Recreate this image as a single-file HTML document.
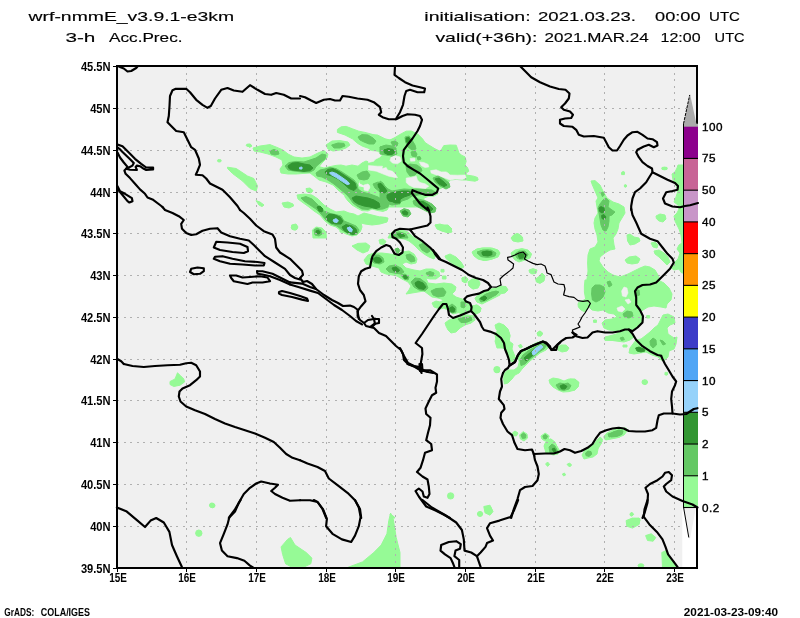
<!DOCTYPE html>
<html><head><meta charset="utf-8"><title>wrf precip</title>
<style>
html,body{margin:0;padding:0;background:#fff;}
body{width:800px;height:618px;overflow:hidden;position:relative;font-family:"Liberation Sans",sans-serif;}
</style></head><body>
<svg width="800" height="618" viewBox="0 0 800 618" style="position:absolute;left:0;top:0">
<rect x="0" y="0" width="800" height="618" fill="#fff"/>
<rect x="117.0" y="66.0" width="580.0" height="502.0" fill="#f0f0f0"/>
<clipPath id="pc"><rect x="118" y="67" width="565.5" height="500"/></clipPath>
<g clip-path="url(#pc)" stroke-linejoin="round">
<g fill="#96fa96" stroke="#96fa96" stroke-width="1.0">
<path d="M253.0,148.0 L260.0,146.0 L270.0,144.6 L277.0,147.4 L283.0,150.0 L288.0,154.0 L294.0,157.0 L302.0,158.0 L310.0,157.0 L318.0,153.0 L324.0,150.6 L328.0,154.0 L327.0,158.0 L322.0,163.0 L319.0,166.6 L324.0,168.0 L330.0,166.6 L336.0,165.4 L341.0,165.0 L346.0,166.2 L352.0,165.0 L358.0,166.2 L362.0,163.0 L366.0,161.0 L370.0,162.6 L373.0,167.4 L370.0,172.0 L364.0,175.0 L360.0,179.0 L358.0,184.0 L360.0,190.0 L352.0,191.0 L348.0,194.0 L344.0,195.0 L338.0,190.0 L333.0,185.0 L326.0,182.0 L319.0,180.0 L314.0,176.0 L310.0,173.0 L304.0,173.4 L296.0,174.0 L288.0,174.0 L281.0,173.0 L280.0,169.0 L283.0,165.0 L282.0,160.0 L276.0,157.0 L268.0,154.0 L260.0,152.0 L254.0,151.0 Z"/>
<path d="M344.0,191.0 L352.0,189.0 L360.0,187.0 L368.0,189.0 L376.0,191.0 L384.0,194.0 L392.0,195.0 L400.0,194.0 L400.0,205.0 L394.0,205.4 L389.0,206.6 L387.0,210.0 L383.0,211.4 L378.0,210.6 L372.0,209.0 L368.0,211.0 L362.0,210.6 L357.0,208.0 L352.0,205.0 L348.0,201.0 L345.0,197.0 Z"/>
<path d="M360.0,175.0 L368.0,172.0 L373.0,167.4 L378.0,169.4 L384.0,167.4 L388.0,169.4 L392.0,175.0 L396.0,181.0 L400.0,183.0 L400.0,195.0 L392.0,195.0 L384.0,194.0 L380.0,191.0 L376.0,187.0 L372.0,185.0 L368.0,184.0 L364.0,185.0 L360.0,183.0 Z"/>
<path d="M337.4,129.4 L341.2,126.8 L346.2,126.4 L352.4,128.8 L358.8,131.2 L365.0,132.4 L372.4,134.4 L378.8,137.4 L385.0,140.6 L390.0,140.0 L395.0,138.8 L400.0,136.2 L400.0,158.0 L396.0,157.4 L392.0,156.6 L388.0,156.0 L380.0,154.4 L376.2,151.2 L370.0,148.8 L362.4,146.2 L357.4,143.2 L352.4,138.8 L345.0,135.0 L337.4,132.4 Z"/>
<path d="M374.0,160.0 L378.0,156.0 L384.0,154.0 L389.0,155.0 L390.0,160.0 L389.0,164.0 L384.0,161.4 L378.0,162.0 Z"/>
<path d="M297.0,195.0 L304.0,194.0 L312.0,195.0 L318.0,199.0 L324.0,205.0 L330.0,209.0 L336.0,212.0 L344.0,211.0 L349.0,213.0 L354.0,214.0 L358.0,216.0 L364.0,213.0 L372.0,215.0 L380.0,217.0 L388.0,218.0 L387.0,222.0 L380.0,224.0 L372.0,225.0 L365.0,224.0 L361.0,223.0 L362.0,227.0 L360.0,232.0 L357.0,235.0 L352.0,236.0 L346.0,234.0 L341.0,231.0 L336.0,227.0 L330.0,225.0 L325.0,221.0 L320.0,215.0 L314.0,211.0 L309.0,207.0 L302.0,202.0 L298.0,199.0 Z"/>
<path d="M326.0,145.0 L332.0,141.0 L340.0,140.6 L348.0,142.0 L350.0,145.0 L346.0,148.0 L340.0,150.0 L333.0,151.0 L328.0,149.0 Z"/>
<path d="M247.0,145.0 L250.0,144.2 L252.0,146.0 L249.6,147.4 Z"/>
<path d="M256.0,200.6 L260.0,202.0 L264.0,205.0 L262.0,206.6 L259.0,205.0 Z"/>
<path d="M282.0,203.0 L288.0,202.0 L293.0,204.0 L293.6,206.0 L289.0,208.0 L284.0,207.0 Z"/>
<path d="M291.6,225.0 L296.0,224.0 L298.0,227.0 L296.0,230.0 L292.4,229.4 Z"/>
<path d="M306.0,188.6 L310.0,188.0 L313.0,190.6 L311.0,193.0 L307.0,192.0 Z"/>
<path d="M312.4,230.0 L316.0,227.0 L322.0,228.0 L326.0,232.0 L326.4,238.0 L313.0,238.0 Z"/>
<path d="M435.0,225.0 L440.0,224.0 L446.0,226.0 L451.0,229.0 L452.0,232.0 L448.0,233.0 L442.0,231.0 L437.0,229.0 Z"/>
<path d="M380.0,217.0 L386.0,217.4 L388.0,220.0 L384.0,222.0 L380.0,221.4 Z"/>
<path d="M388.0,238.0 L390.0,234.0 L396.0,231.0 L402.0,230.0 L408.0,232.0 L411.0,235.0 L412.0,238.0 Z"/>
<path d="M512.0,238.0 L514.0,235.0 L517.0,233.4 L520.0,235.0 L522.0,238.0 Z"/>
<path d="M370.0,134.4 L377.5,135.0 L385.0,138.8 L390.0,140.0 L395.0,137.5 L401.2,133.8 L406.2,131.2 L411.2,131.0 L417.5,133.8 L422.5,138.8 L425.0,142.5 L428.8,145.0 L435.0,148.8 L440.0,151.2 L441.9,148.8 L443.8,145.6 L450.0,145.0 L456.2,145.2 L457.5,148.8 L458.8,152.5 L461.2,155.0 L465.0,156.9 L466.2,161.2 L465.0,165.0 L467.5,167.5 L468.8,171.2 L466.2,173.1 L466.2,175.0 L470.0,175.6 L473.8,176.2 L477.5,177.5 L478.1,180.0 L475.0,181.2 L470.0,180.6 L466.2,180.0 L462.5,180.0 L456.2,179.4 L450.0,180.0 L447.5,183.8 L445.0,186.2 L440.0,188.8 L436.2,191.2 L438.1,193.8 L433.8,196.2 L428.8,196.2 L423.8,198.1 L425.0,207.0 L370.0,207.0 Z"/>
<path d="M352.0,246.0 L358.0,243.4 L366.0,243.0 L370.0,246.0 L368.0,251.0 L363.0,253.0 L357.0,250.0 Z"/>
<path d="M364.0,260.0 L368.0,255.0 L374.0,253.0 L382.0,253.0 L390.0,254.0 L396.0,255.0 L402.0,252.0 L409.0,251.0 L414.0,254.0 L417.0,259.0 L416.0,263.0 L411.0,264.0 L406.0,262.0 L402.0,264.0 L406.0,268.0 L414.0,270.0 L420.0,271.0 L426.0,269.0 L433.0,269.0 L439.0,272.0 L440.0,276.0 L436.0,279.0 L430.0,279.0 L426.0,278.0 L428.0,283.0 L436.0,284.0 L444.0,283.0 L452.0,284.0 L456.0,287.0 L455.0,291.0 L452.0,294.0 L456.0,297.0 L462.0,299.0 L468.0,302.0 L471.0,307.0 L468.0,311.0 L462.0,312.0 L457.0,313.0 L453.0,314.0 L449.0,311.0 L444.0,308.0 L440.0,309.0 L434.0,307.0 L432.0,303.0 L436.0,301.0 L440.0,302.0 L444.0,300.0 L438.0,298.0 L432.0,297.0 L428.0,294.0 L424.0,291.0 L418.0,292.0 L412.0,293.0 L406.0,294.0 L409.0,290.0 L411.0,286.0 L408.0,282.0 L402.0,279.0 L397.0,276.0 L392.0,275.0 L386.0,274.0 L381.0,272.0 L379.0,268.0 L372.0,266.0 L366.0,264.0 Z"/>
<path d="M390.0,234.0 L394.0,231.0 L400.0,230.6 L406.0,232.0 L411.0,235.0 L416.0,239.0 L422.0,242.0 L428.0,245.0 L433.0,250.0 L436.0,255.0 L434.0,259.0 L429.0,257.0 L424.0,254.0 L419.0,250.0 L414.0,245.0 L409.0,241.0 L404.0,239.0 L398.0,238.0 L392.4,237.4 Z"/>
<path d="M379.0,240.0 L383.0,239.0 L386.0,241.4 L384.0,244.6 L380.0,244.0 Z"/>
<path d="M445.0,256.0 L450.0,254.0 L456.0,257.0 L461.0,262.0 L464.0,267.0 L460.0,269.0 L454.0,265.0 L449.0,261.0 L446.0,258.6 Z"/>
<path d="M472.0,252.0 L477.0,249.0 L484.0,248.0 L492.0,248.0 L498.0,250.0 L500.0,253.0 L498.0,257.0 L492.0,259.0 L485.0,260.6 L478.0,258.0 L473.6,255.0 Z"/>
<path d="M435.0,225.0 L448.0,225.0 L452.0,229.0 L449.0,232.0 L442.0,231.0 L437.0,228.0 Z"/>
<path d="M340.0,225.0 L360.0,225.0 L361.0,230.0 L358.0,234.0 L352.0,235.0 L346.0,233.0 L340.0,232.0 Z"/>
<path d="M462.0,278.0 L466.0,277.0 L468.0,280.0 L465.6,283.0 L462.4,281.4 Z"/>
<path d="M469.0,282.0 L473.0,279.0 L478.0,279.0 L480.0,283.0 L478.0,287.0 L473.0,289.0 L469.0,286.0 Z"/>
<path d="M475.0,298.0 L480.0,294.0 L486.0,291.0 L492.0,289.0 L500.0,287.0 L500.0,295.0 L494.0,298.0 L488.0,301.0 L482.0,304.0 L477.0,302.0 Z"/>
<path d="M472.0,306.0 L477.0,305.0 L481.0,308.0 L480.0,312.0 L476.0,314.0 L472.0,311.0 Z"/>
<path d="M445.0,323.0 L449.0,320.0 L456.0,318.0 L462.0,316.0 L468.0,315.0 L474.0,316.0 L475.0,320.0 L471.0,323.0 L465.0,325.0 L460.0,328.0 L456.0,332.0 L451.0,333.0 L448.0,330.0 L446.0,326.0 Z"/>
<path d="M441.0,269.4 L444.0,269.4 L444.0,272.0 L441.0,272.0 Z"/>
<path d="M442.4,276.0 L446.0,276.0 L446.0,279.0 L442.4,279.0 Z"/>
<path d="M591.0,181.0 L595.0,180.6 L600.0,185.0 L603.0,191.0 L607.0,198.0 L613.0,202.0 L619.0,204.0 L624.0,207.0 L625.0,213.0 L622.0,218.0 L619.0,223.0 L618.0,229.0 L616.0,234.0 L613.0,238.0 L614.0,245.0 L615.0,249.0 L610.0,250.0 L605.0,253.0 L600.0,257.0 L599.0,261.0 L603.0,267.0 L608.0,272.0 L613.0,275.0 L620.0,277.0 L628.0,274.0 L634.0,271.0 L640.0,268.0 L645.0,266.0 L650.0,267.0 L655.0,270.0 L658.0,275.0 L660.0,280.0 L656.0,285.0 L650.0,288.0 L586.0,288.0 L587.0,279.0 L588.0,271.0 L587.6,263.0 L588.0,255.0 L590.0,249.0 L595.0,247.0 L598.0,242.0 L597.0,235.0 L595.0,229.0 L594.0,223.0 L595.0,218.0 L598.0,213.0 L597.0,207.0 L596.0,201.0 L598.0,198.0 L595.0,191.0 L592.4,185.0 Z"/>
<path d="M627.0,235.0 L630.0,234.0 L634.0,237.0 L639.0,238.0 L640.0,241.0 L635.0,244.0 L630.0,245.0 L627.6,241.0 Z"/>
<path d="M625.0,260.0 L629.0,257.0 L636.0,256.0 L640.0,259.0 L638.0,263.0 L632.0,264.0 L627.0,263.0 Z"/>
<path d="M651.0,243.0 L655.0,242.0 L658.0,245.0 L657.0,248.0 L653.0,247.0 Z"/>
<path d="M654.0,251.0 L659.0,250.0 L664.0,253.0 L668.0,257.0 L670.0,262.0 L667.0,265.0 L663.0,261.0 L659.0,257.0 L655.0,254.0 Z"/>
<path d="M656.0,216.0 L660.0,214.0 L665.0,215.0 L666.0,219.0 L663.0,222.0 L659.0,221.0 L656.4,218.6 Z"/>
<path d="M678.0,165.0 L684.0,165.0 L684.0,273.0 L681.6,273.0 L679.0,269.0 L674.0,270.0 L670.0,267.0 L674.0,263.0 L678.0,259.0 L680.0,253.0 L677.0,249.0 L679.0,245.0 L682.0,243.0 L681.0,235.0 L679.0,229.0 L677.0,225.0 L675.0,221.0 L674.0,216.0 L677.0,213.0 L679.0,209.0 L678.0,205.0 L674.0,202.0 L676.0,197.0 L678.0,191.0 L676.0,185.0 L673.0,180.0 L672.0,174.0 L675.0,172.0 L677.0,168.0 Z"/>
<path d="M621.6,172.6 L624.4,172.6 L624.4,174.6 L621.6,174.6 Z"/>
<path d="M624.4,185.0 L626.4,185.0 L626.4,186.6 L624.4,186.6 Z"/>
<path d="M662.0,167.4 L667.0,167.4 L667.0,169.4 L662.0,169.4 Z"/>
<path d="M585.0,280.0 L658.0,280.0 L664.0,283.0 L669.0,288.0 L672.0,294.0 L671.0,300.0 L667.0,304.0 L666.0,308.0 L661.0,307.0 L654.0,306.0 L648.0,307.0 L643.0,310.0 L640.0,313.0 L643.0,318.0 L642.0,323.0 L638.0,327.0 L632.0,330.0 L630.0,332.4 L634.0,337.0 L630.0,340.0 L624.0,342.0 L616.0,341.0 L609.0,340.0 L604.0,339.0 L605.0,337.0 L613.0,335.0 L619.0,333.0 L616.0,331.0 L609.0,330.0 L604.0,328.0 L602.0,323.0 L605.0,320.0 L612.0,319.0 L617.0,317.0 L614.0,314.0 L608.0,313.0 L603.0,310.0 L598.0,311.0 L592.0,310.0 L589.0,307.0 L587.0,302.0 L582.0,306.0 L579.0,305.0 L578.0,303.0 L582.0,301.0 L585.6,299.0 L584.4,292.0 L584.4,286.0 Z"/>
<path d="M645.0,336.0 L650.0,332.0 L654.0,328.0 L658.0,325.0 L661.0,319.0 L663.0,315.0 L668.0,314.0 L674.0,317.0 L675.0,323.0 L670.0,325.0 L667.0,328.0 L668.0,334.0 L674.0,338.0 L677.0,337.0 L676.0,344.0 L674.0,349.0 L669.0,351.0 L668.0,357.0 L664.0,361.0 L661.0,360.0 L658.0,357.0 L652.0,355.0 L646.0,352.0 L640.0,353.0 L634.0,354.0 L629.0,353.0 L630.0,348.0 L633.0,344.0 L636.0,340.0 L641.0,339.0 Z"/>
<path d="M646.6,315.6 L649.6,315.6 L649.6,318.0 L646.6,318.0 Z"/>
<path d="M593.6,320.0 L596.4,320.0 L596.4,322.4 L593.6,322.4 Z"/>
<path d="M623.0,345.0 L627.0,345.0 L627.0,347.0 L623.0,347.0 Z"/>
<path d="M665.0,372.4 L667.6,372.4 L667.6,374.4 L665.0,374.4 Z"/>
<path d="M570.0,379.0 L575.0,379.0 L578.4,382.0 L578.0,387.0 L575.0,390.0 L570.0,390.0 Z"/>
<path d="M642.4,381.0 L645.0,380.0 L647.6,382.0 L645.0,385.0 Z"/>
<path d="M472.4,252.0 L476.0,249.4 L482.0,248.0 L490.0,248.0 L497.0,250.0 L499.6,253.0 L497.0,257.0 L491.0,259.4 L484.0,260.6 L478.0,259.0 L474.0,256.0 Z"/>
<path d="M511.0,238.0 L514.0,234.6 L519.0,234.0 L522.4,237.0 L523.0,241.0 L518.0,242.0 L513.0,241.0 Z"/>
<path d="M511.0,253.0 L515.0,250.0 L522.0,248.6 L528.0,250.0 L531.6,254.0 L530.0,258.0 L525.0,260.0 L519.0,262.0 L515.0,260.0 L512.4,256.6 Z"/>
<path d="M529.0,270.0 L533.0,268.6 L537.0,270.0 L536.0,273.4 L532.0,274.0 L529.6,272.6 Z"/>
<path d="M535.6,279.0 L539.0,276.6 L542.0,273.0 L545.0,276.0 L544.0,281.0 L540.0,283.4 L536.4,282.0 Z"/>
<path d="M462.0,278.0 L465.6,276.6 L468.0,279.0 L466.0,282.6 L462.4,281.4 Z"/>
<path d="M468.0,282.0 L472.0,279.0 L477.0,280.0 L480.0,284.0 L478.0,288.0 L473.0,289.0 L469.0,286.0 Z"/>
<path d="M475.0,298.0 L480.0,294.0 L486.0,291.0 L492.0,289.0 L500.0,286.0 L506.0,286.6 L508.0,290.0 L505.0,293.0 L499.0,294.0 L494.0,297.0 L488.0,300.6 L482.0,303.4 L477.0,302.0 Z"/>
<path d="M472.0,306.0 L477.0,305.0 L481.0,308.0 L480.0,312.0 L476.0,314.0 L472.0,311.0 Z"/>
<path d="M460.0,299.0 L465.0,300.0 L469.0,304.0 L470.0,309.0 L467.0,313.0 L462.0,315.0 L460.0,315.0 Z"/>
<path d="M460.0,318.0 L466.0,315.0 L471.0,316.0 L473.0,320.0 L471.0,323.0 L466.0,324.0 L460.0,325.0 Z"/>
<path d="M495.0,325.0 L499.0,323.0 L504.0,325.0 L508.0,329.0 L510.0,335.0 L509.0,341.0 L510.0,348.0 L497.0,348.0 L495.0,341.0 L497.0,337.0 L499.0,333.0 L496.0,329.0 Z"/>
<path d="M537.0,333.0 L540.0,331.0 L542.4,333.0 L541.0,336.0 L538.0,336.0 Z"/>
<path d="M578.0,304.0 L583.0,302.0 L588.0,301.0 L590.0,304.0 L588.0,308.0 L585.0,312.0 L581.0,310.0 L578.4,307.0 Z"/>
<path d="M495.0,334.0 L498.0,330.0 L508.0,330.0 L510.0,336.0 L509.0,341.0 L513.0,344.0 L512.0,349.0 L514.4,355.0 L516.0,360.0 L513.0,363.0 L509.6,360.0 L507.0,354.0 L504.4,349.0 L500.0,346.0 L497.0,342.0 L495.6,338.0 Z"/>
<path d="M518.0,356.0 L520.0,352.0 L525.0,348.4 L531.0,345.6 L537.0,342.4 L543.0,341.0 L547.0,343.0 L549.0,347.0 L546.0,350.0 L540.0,353.0 L535.0,357.0 L530.0,361.0 L526.0,365.0 L522.0,369.0 L519.0,373.0 L515.0,375.0 L512.0,379.0 L508.0,383.0 L504.4,384.0 L503.6,379.0 L504.4,373.0 L508.0,370.0 L514.0,370.0 L518.0,367.0 L519.2,362.0 Z"/>
<path d="M494.4,369.0 L497.0,367.0 L499.6,369.0 L499.0,372.4 L495.6,372.4 Z"/>
<path d="M518.4,345.6 L521.0,344.4 L522.4,347.0 L520.0,348.0 Z"/>
<path d="M537.0,333.0 L540.0,331.0 L543.0,333.6 L540.4,336.0 Z"/>
<path d="M557.6,347.0 L561.0,345.0 L566.0,345.0 L569.0,348.0 L567.0,351.0 L562.0,352.0 L558.0,350.0 Z"/>
<path d="M549.0,380.0 L553.0,378.0 L559.0,379.0 L564.0,381.0 L569.0,379.0 L575.0,379.6 L579.0,382.4 L578.0,387.0 L575.0,390.0 L569.0,391.6 L563.0,392.0 L558.0,390.0 L553.0,387.0 L550.0,383.6 Z"/>
<path d="M512.4,433.0 L515.0,431.0 L518.0,433.0 L516.4,436.0 L513.6,435.6 Z"/>
<path d="M519.6,435.0 L523.0,431.6 L527.0,434.0 L527.6,438.0 L524.0,441.0 L520.4,439.0 Z"/>
<path d="M541.6,436.0 L545.0,433.0 L549.0,435.6 L548.4,439.0 L545.0,441.0 L542.0,439.0 Z"/>
<path d="M544.0,446.0 L547.0,440.0 L551.0,439.0 L555.0,443.0 L558.0,448.0 L559.0,453.0 L546.0,453.0 Z"/>
<path d="M584.0,450.0 L590.0,447.0 L596.0,442.0 L600.0,437.0 L602.4,439.0 L601.0,444.0 L597.0,449.0 L592.0,453.0 L584.0,453.0 Z"/>
<path d="M604.0,436.0 L609.0,433.0 L615.0,431.0 L620.0,430.0 L620.0,437.0 L614.0,438.0 L608.0,439.0 L604.4,439.0 Z"/>
<path d="M604.4,338.0 L612.0,337.0 L620.0,336.0 L620.0,340.0 L612.0,340.4 L605.0,340.4 Z"/>
<path d="M541.0,436.0 L545.0,433.6 L549.0,436.0 L548.0,439.0 L544.0,440.0 L541.6,438.4 Z"/>
<path d="M544.4,445.0 L547.0,440.0 L551.0,439.0 L555.0,442.0 L557.0,447.0 L560.0,451.0 L558.0,454.0 L553.0,455.0 L548.0,452.4 L545.0,449.0 Z"/>
<path d="M582.0,455.0 L585.0,450.0 L590.0,447.0 L594.0,445.0 L597.0,440.0 L600.0,438.0 L602.4,441.0 L600.0,445.0 L598.0,449.0 L597.0,454.0 L593.0,457.0 L588.0,458.0 L584.0,459.0 Z"/>
<path d="M604.0,437.0 L607.0,433.0 L613.0,430.0 L620.0,428.4 L626.0,428.0 L627.0,431.0 L624.0,435.0 L618.0,437.6 L611.0,439.0 L605.6,440.0 Z"/>
<path d="M545.6,464.0 L547.6,462.0 L549.6,464.4 L547.6,466.4 Z"/>
<path d="M567.0,464.4 L569.6,463.0 L571.6,465.0 L569.6,467.0 Z"/>
<path d="M562.4,474.0 L564.4,473.0 L565.6,475.0 L563.6,476.0 Z"/>
<path d="M626.0,523.0 L629.0,520.0 L634.0,518.4 L639.0,518.0 L640.0,521.0 L637.0,523.0 Z"/>
<path d="M630.0,514.0 L632.0,512.4 L633.6,514.4 L631.6,516.0 Z"/>
<path d="M251.2,145.2 L250.7,146.2 L248.8,146.5 L246.8,146.2 L246.2,145.2 L246.8,144.3 L248.8,144.0 L250.7,144.3 Z"/>
<path d="M221.2,160.8 L220.8,161.7 L219.4,162.0 L217.9,161.7 L217.5,160.8 L217.9,159.8 L219.4,159.5 L220.8,159.8 Z"/>
<path d="M227.5,167.2 L236.2,168.5 L247.5,176.0 L253.8,178.5 L257.5,186.0 L256.2,191.0 L250.0,188.5 L242.5,181.0 L232.5,173.5 L227.5,168.5 Z"/>
<path d="M297.5,227.5 L296.8,229.4 L294.4,230.0 L292.0,229.4 L291.2,227.5 L292.0,225.6 L294.4,225.0 L296.8,225.6 Z"/>
<path d="M170.0,381.5 L175.0,379.0 L177.5,372.8 L180.0,375.2 L183.8,379.0 L184.5,382.0 L180.0,385.2 L173.8,386.5 L170.0,384.5 Z"/>
<path d="M215.0,505.6 L214.4,507.2 L212.5,507.8 L210.6,507.2 L210.0,505.6 L210.6,504.0 L212.5,503.5 L214.4,504.0 Z"/>
<path d="M214.4,505.2 L213.8,507.0 L211.9,507.5 L210.1,507.0 L209.5,505.2 L210.1,503.5 L211.9,503.0 L213.8,503.5 Z"/>
<path d="M202.0,533.2 L201.2,535.6 L198.8,536.4 L196.4,535.6 L195.6,533.2 L196.4,530.8 L198.8,530.0 L201.2,530.8 Z"/>
<path d="M281.1,546.9 L287.5,539.4 L290.5,537.5 L295.0,545.0 L306.2,552.5 L311.9,558.1 L310.8,563.8 L304.4,566.8 L291.2,566.8 L285.6,563.8 L282.6,554.4 Z"/>
<path d="M347.5,567.5 L362.5,561.9 L373.8,552.5 L381.2,545.0 L386.9,533.8 L388.8,520.6 L390.6,513.1 L393.2,518.8 L396.2,537.5 L400.0,552.5 L400.0,567.5 Z"/>
<path d="M482.5,513.9 L481.9,515.3 L480.1,515.8 L478.2,515.3 L477.6,513.9 L478.2,512.4 L480.1,512.0 L481.9,512.4 Z"/>
<path d="M491.9,509.9 L491.1,512.4 L488.7,513.1 L486.3,512.4 L485.5,509.9 L486.3,507.5 L488.7,506.8 L491.1,507.5 Z"/>
<path d="M626.1,520.6 L632.5,518.0 L640.0,518.8 L639.2,524.4 L632.5,528.1 L626.9,526.2 Z"/>
<path d="M645.6,535.6 L651.2,533.8 L655.8,537.5 L653.1,541.2 L647.5,540.5 Z"/>
<path d="M661.8,552.5 L666.2,550.6 L670.8,558.1 L677.5,567.5 L662.5,567.5 Z"/>
<path d="M643.8,565.6 L643.1,567.1 L640.9,567.5 L638.8,567.1 L638.1,565.6 L638.8,564.2 L640.9,563.8 L643.1,564.2 Z"/>
<path d="M391.2,518.0 L390.0,514.0 L393.8,516.5 L395.0,518.0 Z"/>
<path d="M453.8,495.9 L453.0,498.3 L450.6,499.0 L448.2,498.3 L447.5,495.9 L448.2,493.5 L450.6,492.8 L453.0,493.5 Z"/>
<path d="M483.8,506.5 L490.0,505.2 L493.0,511.5 L490.0,515.2 L485.0,512.8 Z"/>
<path d="M482.5,514.0 L481.9,515.9 L480.0,516.5 L478.1,515.9 L477.5,514.0 L478.1,512.1 L480.0,511.5 L481.9,512.1 Z"/>
<path d="M500.0,369.6 L499.3,372.0 L496.9,372.8 L494.5,372.0 L493.8,369.6 L494.5,367.2 L496.9,366.5 L499.3,367.2 Z"/>
<path d="M647.5,382.1 L646.9,383.9 L644.8,384.5 L642.6,383.9 L642.0,382.1 L642.6,380.3 L644.8,379.8 L646.9,380.3 Z"/>
<path d="M667.5,374.4 L667.2,375.0 L666.2,375.2 L665.3,375.0 L665.0,374.4 L665.3,373.7 L666.2,373.5 L667.2,373.7 Z"/>
<path d="M633.0,514.4 L632.6,515.6 L631.5,516.0 L630.4,515.6 L630.0,514.4 L630.4,513.1 L631.5,512.8 L632.6,513.1 Z"/>
<path d="M667.0,168.5 L666.4,169.5 L664.5,169.8 L662.6,169.5 L662.0,168.5 L662.6,167.5 L664.5,167.2 L666.4,167.5 Z"/>
<path d="M624.5,172.8 L624.2,173.7 L623.2,174.0 L622.3,173.7 L622.0,172.8 L622.3,171.8 L623.2,171.5 L624.2,171.8 Z"/>
<path d="M626.2,186.0 L626.0,187.0 L625.4,187.2 L624.7,187.0 L624.5,186.0 L624.7,185.0 L625.4,184.8 L626.0,185.0 Z"/>
</g>
<g fill="#f0f0f0" stroke="#f0f0f0" stroke-width="0.6">
<path d="M364.0,185.0 L368.0,184.0 L370.0,187.0 L368.0,191.0 L364.0,190.0 Z"/>
<path d="M368.5,150.6 L377.5,151.9 L382.5,153.8 L380.0,156.9 L375.0,159.4 L373.8,161.2 L368.5,162.5 Z"/>
<path d="M391.2,156.9 L395.0,155.6 L400.0,156.9 L401.2,161.2 L397.5,163.8 L392.5,163.1 L390.0,160.6 Z"/>
<path d="M410.2,158.5 L414.8,158.2 L415.0,161.0 L410.6,161.2 Z"/>
<path d="M368.5,165.6 L377.5,166.2 L382.5,166.2 L381.9,168.8 L386.2,167.5 L387.5,170.0 L392.5,171.2 L395.0,173.8 L397.5,177.5 L395.0,177.5 L388.8,176.2 L382.5,173.8 L376.2,171.2 L368.5,170.0 Z"/>
<path d="M406.2,178.1 L411.2,177.5 L416.2,176.2 L417.5,180.0 L420.0,182.5 L425.0,183.8 L428.8,186.2 L425.0,188.8 L420.0,188.1 L413.8,187.5 L408.8,185.0 L406.2,182.5 Z"/>
<path d="M419.4,161.9 L423.8,162.5 L428.1,164.4 L428.8,166.9 L425.0,167.5 L421.2,165.6 Z"/>
<path d="M430.6,170.6 L436.2,169.8 L441.2,171.9 L446.2,171.9 L448.1,173.1 L450.0,175.0 L457.5,175.2 L465.0,175.0 L466.2,177.5 L462.5,179.4 L455.0,179.0 L450.0,180.0 L445.0,178.1 L440.0,176.2 L435.0,174.4 L431.2,173.1 Z"/>
<path d="M621.6,291.0 L624.0,287.0 L627.0,288.0 L628.0,293.0 L626.0,297.0 L622.4,296.0 Z"/>
<path d="M625.0,300.0 L629.0,299.0 L631.0,302.0 L628.0,304.0 Z"/>
<path d="M617.0,308.0 L622.0,306.0 L625.0,309.0 L622.0,312.0 L618.0,311.0 Z"/>
</g>
<g fill="#64c864" stroke="#64c864" stroke-width="1.0">
<path d="M270.0,151.0 L274.0,149.4 L278.0,151.0 L279.0,154.0 L275.0,155.0 L271.0,154.0 Z"/>
<path d="M285.0,166.0 L289.0,162.6 L296.0,161.4 L304.0,162.0 L310.0,160.0 L316.0,158.0 L322.0,154.0 L326.0,155.0 L325.0,159.0 L320.0,163.0 L316.0,166.6 L314.0,170.0 L310.0,172.0 L302.0,172.0 L294.0,171.0 L288.0,170.0 Z"/>
<path d="M331.6,145.0 L338.0,143.0 L344.0,143.4 L345.0,146.0 L340.0,148.0 L334.0,148.0 Z"/>
<path d="M316.0,173.0 L320.0,170.0 L325.0,169.0 L330.0,167.4 L336.0,168.6 L342.0,172.0 L348.0,176.0 L354.0,180.0 L357.0,184.0 L358.0,189.0 L362.0,192.0 L370.0,194.0 L378.0,197.0 L384.0,201.0 L389.0,203.0 L388.0,207.0 L383.0,209.0 L378.0,209.4 L372.0,208.0 L368.0,209.4 L362.0,209.0 L357.0,206.0 L353.0,203.0 L349.6,198.0 L346.0,194.0 L340.0,189.0 L334.0,184.0 L328.0,180.0 L322.0,177.0 L317.0,176.0 Z"/>
<path d="M358.0,137.0 L362.0,134.6 L368.0,135.0 L373.0,138.0 L376.0,141.0 L374.0,144.0 L369.0,144.0 L364.0,142.0 L360.0,140.0 Z"/>
<path d="M380.0,147.0 L386.0,145.0 L392.0,146.0 L396.0,148.0 L396.0,153.0 L392.0,156.0 L387.0,155.0 L383.0,152.0 Z"/>
<path d="M373.0,184.0 L378.0,182.0 L383.0,184.0 L388.0,189.0 L392.0,194.0 L400.0,193.0 L400.0,204.0 L395.0,204.0 L390.0,201.0 L386.0,197.0 L380.0,192.0 L375.0,188.0 Z"/>
<path d="M357.0,175.0 L362.0,172.0 L367.0,171.0 L370.0,175.0 L368.0,179.0 L364.0,180.0 L359.0,179.0 Z"/>
<path d="M301.0,198.0 L306.0,196.6 L312.0,199.0 L319.0,206.0 L324.0,211.0 L330.0,213.4 L336.0,214.6 L341.0,216.0 L344.0,221.0 L349.0,223.0 L356.0,226.0 L359.0,230.0 L357.0,234.0 L352.0,235.0 L347.0,233.0 L342.0,230.0 L337.0,226.0 L331.0,224.0 L326.0,220.0 L321.0,214.0 L316.0,209.0 L310.0,205.0 L304.0,201.0 Z"/>
<path d="M314.0,230.0 L317.0,228.0 L321.0,230.0 L322.0,234.0 L319.0,236.0 L315.0,235.0 Z"/>
<path d="M405.0,137.0 L409.0,136.0 L412.0,140.0 L415.0,145.0 L416.0,149.0 L412.0,150.0 L408.0,147.0 L405.6,142.0 Z"/>
<path d="M411.0,152.0 L415.0,151.0 L417.0,154.0 L416.0,157.0 L412.0,156.0 Z"/>
<path d="M417.0,157.0 L420.0,156.6 L421.0,159.0 L418.0,160.0 Z"/>
<path d="M391.0,142.0 L395.0,141.0 L398.0,143.0 L397.0,146.0 L393.0,146.0 Z"/>
<path d="M380.0,147.0 L384.0,146.0 L390.0,148.0 L396.0,150.0 L397.0,154.0 L392.0,156.0 L386.0,155.0 L380.0,154.0 Z"/>
<path d="M406.0,166.0 L410.0,164.0 L417.0,165.0 L421.0,168.0 L422.0,171.0 L418.0,172.0 L415.0,175.0 L410.0,176.0 L407.0,172.0 Z"/>
<path d="M433.0,178.0 L438.0,176.0 L444.0,179.0 L449.0,183.0 L450.0,187.0 L446.0,189.0 L440.0,186.0 L435.0,182.0 Z"/>
<path d="M380.0,181.0 L383.0,183.0 L386.0,188.0 L392.0,191.0 L398.0,190.0 L404.0,189.0 L410.0,189.4 L416.0,189.0 L424.0,189.4 L432.0,190.0 L435.0,192.0 L430.0,194.0 L424.0,194.0 L418.0,195.0 L412.0,196.0 L408.0,199.0 L402.0,201.0 L398.0,204.0 L392.0,205.0 L386.0,203.0 L380.0,201.0 Z"/>
<path d="M413.0,201.0 L418.0,199.0 L426.0,201.0 L432.0,204.0 L436.0,208.0 L435.0,212.0 L430.0,213.0 L424.0,210.0 L418.0,207.0 L414.0,204.6 Z"/>
<path d="M400.0,211.0 L404.0,208.6 L409.0,210.0 L411.0,214.0 L408.0,217.0 L403.0,216.0 Z"/>
<path d="M394.0,233.0 L400.0,232.0 L406.0,234.0 L408.0,238.0 L392.0,238.0 Z"/>
<path d="M370.0,259.0 L373.0,255.0 L379.0,255.0 L383.0,258.0 L384.0,262.0 L380.0,264.0 L374.0,263.0 Z"/>
<path d="M386.0,269.0 L389.0,266.0 L395.0,265.0 L401.0,268.0 L404.0,272.0 L401.0,274.0 L394.0,273.0 L389.0,272.0 Z"/>
<path d="M401.0,275.0 L405.0,274.0 L409.0,277.0 L408.0,280.0 L404.0,279.0 Z"/>
<path d="M411.0,282.0 L415.0,278.0 L420.0,278.6 L426.0,283.0 L428.0,288.0 L425.0,291.0 L419.0,290.0 L414.0,287.0 Z"/>
<path d="M406.0,255.0 L410.0,254.0 L414.0,257.0 L415.0,261.0 L411.0,262.0 L407.0,259.0 Z"/>
<path d="M394.0,233.0 L399.0,232.0 L405.0,234.0 L407.0,237.0 L402.0,238.0 L396.0,236.6 Z"/>
<path d="M419.0,245.0 L423.0,243.4 L428.0,247.0 L430.0,251.0 L427.0,253.0 L422.0,250.0 Z"/>
<path d="M426.0,273.0 L430.0,271.4 L434.0,273.0 L433.0,276.0 L428.0,276.0 Z"/>
<path d="M431.0,291.0 L436.0,288.6 L443.0,288.0 L446.0,292.0 L444.0,296.0 L438.0,297.0 L433.0,295.0 Z"/>
<path d="M448.0,307.0 L452.0,304.0 L456.0,307.0 L456.0,312.0 L452.0,313.0 L449.0,311.0 Z"/>
<path d="M477.0,252.0 L483.0,250.0 L491.0,250.0 L496.0,253.0 L495.0,256.0 L489.0,257.0 L482.0,256.6 Z"/>
<path d="M458.0,319.0 L464.0,317.4 L471.0,317.0 L472.0,320.0 L467.0,322.0 L461.0,322.6 Z"/>
<path d="M480.0,298.0 L486.0,294.0 L492.0,292.0 L496.0,293.0 L492.0,297.0 L486.0,300.0 L481.0,301.0 Z"/>
<path d="M344.0,227.0 L350.0,226.0 L356.0,228.0 L357.0,232.0 L352.0,233.4 L346.0,232.0 Z"/>
<path d="M395.0,249.0 L398.0,248.0 L400.0,250.6 L398.0,253.0 L395.4,252.0 Z"/>
<path d="M600.0,204.0 L603.0,200.0 L606.0,198.0 L609.0,201.0 L608.0,207.0 L612.0,210.0 L615.0,212.0 L612.0,215.0 L609.0,216.0 L609.0,221.0 L608.0,227.0 L606.0,231.0 L603.0,230.0 L601.0,225.0 L600.0,219.0 L599.0,213.0 L598.0,208.0 Z"/>
<path d="M601.0,193.0 L603.0,192.0 L604.4,195.0 L602.4,196.6 Z"/>
<path d="M592.0,288.0 L595.0,285.0 L600.0,285.0 L604.0,287.0 L605.0,292.0 L603.0,297.0 L600.0,300.0 L596.0,302.0 L592.4,300.0 L591.6,294.0 Z"/>
<path d="M607.0,282.0 L610.0,281.0 L612.0,285.0 L609.0,287.0 Z"/>
<path d="M623.0,314.0 L627.0,311.0 L632.0,312.0 L633.0,316.0 L629.0,318.0 L624.4,317.0 Z"/>
<path d="M650.0,341.0 L653.0,338.0 L656.0,340.0 L656.4,345.0 L653.0,348.0 L650.4,345.0 Z"/>
<path d="M660.0,340.0 L663.0,341.0 L665.6,344.0 L663.0,345.0 Z"/>
<path d="M620.0,338.0 L623.0,337.0 L624.4,339.6 L621.6,340.4 Z"/>
<path d="M636.0,291.0 L639.0,290.0 L639.6,295.0 L637.0,296.0 Z"/>
<path d="M477.0,253.0 L481.0,250.6 L488.0,250.0 L494.0,252.0 L496.0,254.0 L493.0,256.6 L487.0,257.4 L481.0,256.6 Z"/>
<path d="M515.0,254.0 L519.0,251.0 L525.0,251.0 L528.0,254.6 L526.0,258.0 L521.0,260.0 L517.0,258.0 Z"/>
<path d="M479.0,299.0 L484.0,295.4 L490.0,292.6 L496.0,291.0 L499.0,292.0 L496.0,295.0 L491.0,297.4 L486.0,300.6 L481.0,302.0 Z"/>
<path d="M462.0,319.0 L466.0,317.4 L470.0,318.6 L469.0,321.4 L464.0,322.6 L461.0,322.0 Z"/>
<path d="M461.0,302.0 L464.0,302.0 L466.0,305.0 L464.0,308.0 L461.0,307.0 Z"/>
<path d="M520.0,360.0 L523.0,355.0 L528.0,351.0 L534.0,347.6 L540.0,344.4 L544.0,343.0 L546.4,345.6 L544.0,349.0 L539.0,352.0 L534.0,356.0 L529.0,360.0 L525.0,364.0 L521.0,365.6 Z"/>
<path d="M556.0,385.0 L560.0,383.0 L564.0,384.0 L568.0,383.0 L571.0,385.6 L569.0,389.0 L564.0,390.4 L559.0,389.6 Z"/>
<path d="M521.0,435.0 L523.6,433.0 L526.0,435.0 L525.6,438.0 L522.4,438.4 Z"/>
<path d="M543.0,436.0 L545.6,434.4 L547.6,436.4 L546.0,439.0 L543.6,438.4 Z"/>
<path d="M549.0,447.0 L552.0,444.0 L555.0,446.0 L557.0,450.0 L558.0,453.0 L550.0,453.0 Z"/>
<path d="M608.0,434.0 L614.0,432.0 L620.0,431.0 L620.0,435.0 L614.0,436.0 L609.0,437.0 Z"/>
<path d="M551.0,448.0 L553.6,446.4 L556.4,449.0 L557.0,451.6 L554.0,452.4 L551.6,450.4 Z"/>
<path d="M585.6,453.0 L588.0,451.0 L591.0,451.6 L591.6,454.4 L589.0,456.4 L586.0,455.6 Z"/>
<path d="M609.0,435.0 L613.0,432.0 L619.0,430.0 L623.0,431.0 L622.0,434.4 L617.0,436.4 L611.0,437.0 Z"/>
<path d="M543.0,436.0 L545.6,435.0 L547.0,437.0 L545.0,438.4 Z"/>
</g>
<g fill="#329632" stroke="#329632" stroke-width="1.0">
<path d="M288.0,166.0 L292.0,163.0 L298.0,162.6 L304.0,164.0 L310.0,165.0 L313.0,168.0 L310.0,170.6 L304.0,171.4 L298.0,170.6 L292.0,170.0 L289.0,168.6 Z"/>
<path d="M325.0,172.0 L328.0,169.4 L333.0,168.6 L338.0,171.0 L344.0,175.0 L350.0,179.0 L355.0,183.0 L356.4,188.0 L354.0,190.6 L349.0,188.6 L344.0,184.0 L338.0,179.0 L332.0,176.0 L327.0,174.6 Z"/>
<path d="M352.0,198.0 L356.0,196.0 L362.0,197.0 L368.0,198.0 L374.0,200.0 L379.0,203.0 L380.0,207.0 L376.0,208.6 L370.0,207.0 L364.0,206.0 L358.0,204.0 L354.0,201.4 Z"/>
<path d="M388.0,195.0 L392.0,194.0 L400.0,194.0 L400.0,203.0 L395.0,203.0 L390.0,200.0 Z"/>
<path d="M378.0,184.0 L381.0,183.4 L384.0,187.0 L387.0,191.0 L385.0,192.6 L381.0,190.0 L378.4,187.0 Z"/>
<path d="M326.0,217.0 L329.0,214.0 L334.0,214.6 L340.0,217.0 L343.0,221.0 L341.0,224.0 L336.0,224.0 L331.0,223.0 L327.6,220.6 Z"/>
<path d="M342.0,227.0 L346.0,224.6 L352.0,226.0 L356.0,229.0 L357.0,233.0 L353.0,234.6 L348.0,233.0 L344.0,230.6 Z"/>
<path d="M384.0,150.0 L388.0,148.6 L393.0,149.4 L394.4,152.6 L391.0,154.6 L387.0,154.0 Z"/>
<path d="M317.0,207.0 L320.0,206.0 L323.0,209.0 L322.0,212.0 L319.0,211.0 Z"/>
<path d="M316.0,231.0 L318.4,230.0 L320.4,232.0 L319.0,234.0 L316.4,233.4 Z"/>
<path d="M384.0,150.0 L389.0,149.0 L394.0,151.0 L393.0,154.0 L388.0,154.6 L384.4,153.0 Z"/>
<path d="M406.0,138.0 L409.0,137.4 L411.0,142.0 L409.0,144.0 L406.4,142.0 Z"/>
<path d="M435.0,179.0 L439.0,178.0 L444.0,182.0 L447.0,185.0 L444.0,186.6 L439.0,184.0 Z"/>
<path d="M380.0,184.0 L383.0,186.0 L386.0,190.0 L385.0,193.0 L380.0,192.0 Z"/>
<path d="M387.0,195.0 L391.0,193.0 L396.0,192.0 L402.0,191.0 L408.0,191.0 L412.0,192.0 L410.0,195.0 L404.0,197.0 L399.0,200.0 L394.0,202.0 L389.0,201.0 L387.0,198.0 Z"/>
<path d="M418.0,202.0 L423.0,201.4 L429.0,205.0 L433.0,209.0 L431.0,211.0 L426.0,209.0 L421.0,206.0 Z"/>
<path d="M402.0,212.0 L405.0,210.6 L408.0,212.6 L407.0,215.0 L403.6,214.6 Z"/>
<path d="M397.0,234.0 L402.0,233.4 L405.0,236.0 L400.0,237.4 Z"/>
<path d="M373.0,259.0 L376.0,257.0 L380.0,258.0 L382.0,261.0 L379.0,263.0 L375.0,262.0 Z"/>
<path d="M392.0,268.0 L396.0,267.0 L399.6,270.0 L398.0,272.0 L393.6,271.0 Z"/>
<path d="M415.0,283.0 L418.0,281.0 L423.0,283.0 L426.0,287.0 L424.0,289.4 L419.0,288.6 L416.0,286.0 Z"/>
<path d="M449.6,308.0 L452.4,306.6 L455.0,309.0 L454.0,312.0 L451.0,312.0 Z"/>
<path d="M482.0,252.0 L487.0,251.0 L492.0,252.0 L491.6,254.6 L487.0,255.4 L482.4,254.6 Z"/>
<path d="M403.0,276.0 L406.0,275.4 L407.6,278.0 L405.0,279.0 Z"/>
<path d="M481.0,298.0 L485.0,296.0 L487.0,298.0 L484.0,300.6 Z"/>
<path d="M599.0,208.0 L601.0,206.6 L604.0,208.0 L604.4,211.4 L602.0,213.0 L599.6,211.4 Z"/>
<path d="M601.6,215.4 L604.0,214.6 L606.0,217.0 L604.4,219.4 L602.0,218.6 Z"/>
<path d="M635.6,348.0 L639.0,347.0 L644.0,349.0 L645.0,351.0 L641.0,352.0 L637.0,351.0 Z"/>
<path d="M482.0,252.6 L486.0,251.4 L491.0,252.0 L492.0,254.6 L488.0,256.0 L483.0,255.4 Z"/>
<path d="M518.0,255.0 L521.0,253.0 L524.4,254.6 L523.0,258.0 L519.6,258.6 Z"/>
<path d="M480.0,298.6 L484.0,296.6 L487.0,298.0 L484.0,300.6 Z"/>
<path d="M524.0,358.0 L529.0,353.6 L534.0,350.0 L537.0,350.0 L535.0,353.6 L530.0,357.6 L526.0,361.0 Z"/>
<path d="M560.0,386.0 L563.6,384.4 L567.0,386.4 L565.0,389.0 L561.6,389.0 Z"/>
<path d="M552.0,449.0 L554.4,448.0 L556.0,451.0 L554.0,452.4 Z"/>
</g>
<g fill="#96d2fa" stroke="#96d2fa" stroke-width="1.0">
<path d="M329.4,173.0 L332.0,172.0 L336.0,173.4 L342.0,177.4 L347.6,181.4 L349.6,184.0 L347.2,184.6 L342.4,181.6 L336.4,177.6 L331.4,174.8 Z"/>
<path d="M333.0,220.0 L336.0,218.6 L338.4,220.6 L337.0,222.6 L334.0,222.0 Z"/>
<path d="M347.6,228.0 L350.0,227.0 L352.4,229.4 L351.6,232.0 L349.0,231.0 Z"/>
<path d="M299.6,167.4 L302.0,167.0 L302.0,169.0 L299.6,169.0 Z"/>
<path d="M347.0,228.0 L350.0,227.0 L352.0,230.0 L349.6,231.4 Z"/>
<path d="M532.0,352.0 L536.0,348.0 L541.0,345.0 L543.0,347.0 L539.0,350.4 L535.0,354.4 L533.0,355.0 Z"/>
</g>
</g>
<g stroke="#b0b0b0" stroke-width="1" stroke-dasharray="2 4.6" fill="none" shape-rendering="crispEdges">
<line x1="186.5" y1="66.0" x2="186.5" y2="568.0"/>
<line x1="256.5" y1="66.0" x2="256.5" y2="568.0"/>
<line x1="326.5" y1="66.0" x2="326.5" y2="568.0"/>
<line x1="395.5" y1="66.0" x2="395.5" y2="568.0"/>
<line x1="465.5" y1="66.0" x2="465.5" y2="568.0"/>
<line x1="535.5" y1="66.0" x2="535.5" y2="568.0"/>
<line x1="604.5" y1="66.0" x2="604.5" y2="568.0"/>
<line x1="674.5" y1="66.0" x2="674.5" y2="568.0"/>
<line x1="117.0" y1="108.5" x2="697.0" y2="108.5"/>
<line x1="117.0" y1="150.5" x2="697.0" y2="150.5"/>
<line x1="117.0" y1="192.5" x2="697.0" y2="192.5"/>
<line x1="117.0" y1="233.5" x2="697.0" y2="233.5"/>
<line x1="117.0" y1="275.5" x2="697.0" y2="275.5"/>
<line x1="117.0" y1="317.5" x2="697.0" y2="317.5"/>
<line x1="117.0" y1="359.5" x2="697.0" y2="359.5"/>
<line x1="117.0" y1="400.5" x2="697.0" y2="400.5"/>
<line x1="117.0" y1="442.5" x2="697.0" y2="442.5"/>
<line x1="117.0" y1="484.5" x2="697.0" y2="484.5"/>
<line x1="117.0" y1="526.5" x2="697.0" y2="526.5"/>
</g>
<rect x="117.0" y="66.0" width="580.0" height="502.0" fill="none" stroke="#000" stroke-width="2"/>
<rect x="682.3" y="507.5" width="13.700000000000045" height="59.5" fill="#fff"/>
<path d="M683.5,507.5 L696,507.5 L689.8,540 Z" fill="#f0f0f0"/>
<path d="M683.6,507.5 L688.8,537.5" stroke="#000" stroke-width="1" fill="none"/>
<path d="M683.5,127.2 L683.5,123.8 L690,94 L696.4,123.8 L698,123.8 L698,127.2 Z" fill="#aaaaaa"/>
<path d="M683.5,123.8 L689.7,95" stroke="#000" stroke-width="1" stroke-dasharray="3 1" fill="none"/>
<rect x="683.0" y="126.70" width="15.0" height="32.23" fill="#8c008c"/>
<rect x="683.0" y="158.43" width="15.0" height="32.23" fill="#c86496"/>
<rect x="683.0" y="190.17" width="15.0" height="32.23" fill="#c896c8"/>
<rect x="683.0" y="221.90" width="15.0" height="32.23" fill="#ff0000"/>
<rect x="683.0" y="253.63" width="15.0" height="32.23" fill="#ff9600"/>
<rect x="683.0" y="285.37" width="15.0" height="32.23" fill="#ffff00"/>
<rect x="683.0" y="317.10" width="15.0" height="32.23" fill="#3c3cc8"/>
<rect x="683.0" y="348.83" width="15.0" height="32.23" fill="#50a5f5"/>
<rect x="683.0" y="380.57" width="15.0" height="32.23" fill="#96d2fa"/>
<rect x="683.0" y="412.30" width="15.0" height="32.23" fill="#329632"/>
<rect x="683.0" y="444.03" width="15.0" height="32.23" fill="#64c864"/>
<rect x="683.0" y="475.77" width="15.0" height="32.23" fill="#96fa96"/>
<line x1="683.0" y1="158.43" x2="698.0" y2="158.43" stroke="#000" stroke-width="1.1"/>
<line x1="683.0" y1="190.17" x2="698.0" y2="190.17" stroke="#000" stroke-width="1.1"/>
<line x1="683.0" y1="221.90" x2="698.0" y2="221.90" stroke="#000" stroke-width="1.1"/>
<line x1="683.0" y1="253.63" x2="698.0" y2="253.63" stroke="#000" stroke-width="1.1"/>
<line x1="683.0" y1="285.37" x2="698.0" y2="285.37" stroke="#000" stroke-width="1.1"/>
<line x1="683.0" y1="317.10" x2="698.0" y2="317.10" stroke="#000" stroke-width="1.1"/>
<line x1="683.0" y1="348.83" x2="698.0" y2="348.83" stroke="#000" stroke-width="1.1"/>
<line x1="683.0" y1="380.57" x2="698.0" y2="380.57" stroke="#000" stroke-width="1.1"/>
<line x1="683.0" y1="412.30" x2="698.0" y2="412.30" stroke="#000" stroke-width="1.1"/>
<line x1="683.0" y1="444.03" x2="698.0" y2="444.03" stroke="#000" stroke-width="1.1"/>
<line x1="683.0" y1="475.77" x2="698.0" y2="475.77" stroke="#000" stroke-width="1.1"/>
<line x1="683.0" y1="507.50" x2="698.0" y2="507.50" stroke="#000" stroke-width="1.1"/>
<line x1="683.5" y1="123.8" x2="683.5" y2="507.5" stroke="#000" stroke-width="1"/>
<g stroke="#000" stroke-width="2.15" fill="none" stroke-linejoin="round" stroke-linecap="round">
<path d="M240.0,210.0 L237.5,206.0 L230.0,197.2 L222.5,189.8 L217.5,187.2 L210.0,183.5 L206.2,178.5 L202.5,175.2 L195.8,174.8 L197.5,171.0 L200.0,164.8 L198.8,158.5 L195.0,149.8 L191.2,147.2 L187.5,139.8 L183.8,132.2 L176.2,131.0 L171.2,126.0 L167.5,122.2 L168.8,116.0 L169.5,106.0 L170.0,96.0 L172.5,90.2 L175.8,88.8 L186.2,88.8 L190.0,92.2 L196.2,99.8 L202.5,104.8 L207.5,107.8 L210.8,106.0 L215.0,98.5 L221.2,89.8 L227.5,88.0 L233.8,90.5 L242.5,91.8 L250.0,85.2 L257.5,89.8 L265.0,94.0 L271.2,94.8 L276.2,93.0 L283.8,94.8 L291.2,98.5 L300.0,98.5"/>
<path d="M118.8,66.5 L123.8,68.5 L127.5,71.5 L131.2,71.0 L136.2,68.0 L137.5,66.5"/>
<path d="M117.5,144.4 L122.5,146.2 L128.8,152.5 L135.0,158.8 L141.2,163.8 L146.2,167.5 L153.1,167.5 L153.1,169.4 L146.2,170.0 L143.8,168.8 L140.0,166.2 L136.9,165.6 L135.6,166.9 L136.9,170.0 L130.0,169.8 L126.2,168.8 L124.4,170.6 L125.6,173.8 L130.0,178.1 L135.0,183.8 L140.0,189.4 L145.0,193.8 L147.5,197.5 L152.5,199.4 L160.0,205.0 L162.5,207.0"/>
<path d="M117.5,152.5 L120.0,157.5 L123.8,162.5 L127.5,166.9 L126.2,168.8"/>
<path d="M117.5,147.5 L119.4,148.8 L122.5,151.9 L128.8,158.1 L133.8,163.1 L132.5,165.6 L128.8,167.5 L126.2,168.8"/>
<path d="M117.5,186.2 L120.0,191.2 L125.0,193.8 L131.9,198.1 L132.5,201.2 L129.4,202.5 L127.5,201.2 L122.5,195.0 L119.4,191.2 L117.5,188.8"/>
<path d="M300.0,96.0 L305.0,97.2 L311.2,100.5 L316.2,103.0 L323.8,99.8 L330.0,99.0 L335.0,100.5 L340.0,100.5 L342.5,96.0 L348.8,96.8 L357.5,98.5 L367.5,99.8 L373.8,102.2 L380.0,107.2 L381.2,112.2 L378.8,114.8 L382.5,117.2 L388.8,119.2 L396.2,119.2 L402.5,116.0 L407.5,114.2 L415.0,114.8 L420.0,116.0 L422.0,119.8 L420.0,126.0 L417.5,131.0 L412.5,138.5 L407.5,144.8 L403.8,149.8 L403.0,156.0 L403.8,162.2 L407.5,166.0 L413.8,169.8 L420.0,173.5 L426.2,178.5 L433.8,184.8 L438.2,188.5 L437.0,192.2 L432.5,194.8 L425.0,194.8 L417.5,192.2 L412.5,190.2 L411.8,193.0 L415.0,197.2 L420.0,203.5 L427.5,210.0"/>
<path d="M395.0,66.5 L394.5,74.8 L398.8,78.0 L405.0,82.2 L412.5,85.5 L420.0,87.2 L425.0,88.5 L424.2,92.2 L417.5,92.2 L410.0,89.8 L406.2,91.0 L404.5,96.0 L403.0,104.8 L400.0,112.2 L396.2,118.5"/>
<path d="M520.5,66.5 L525.0,71.0 L531.2,77.2 L540.0,82.2 L550.0,86.5 L558.8,89.0 L565.5,89.8 L569.5,93.5 L568.8,98.5 L565.0,103.5 L561.2,107.2 L563.8,109.8 L570.0,111.5 L573.0,114.8 L571.2,118.0 L565.0,118.5 L560.0,119.8 L560.0,123.5 L563.8,126.0 L572.5,126.8 L576.2,129.8 L578.8,134.8 L583.8,136.5 L593.8,136.0 L603.8,137.8 L606.2,142.2 L608.8,147.2 L612.5,150.5 L617.0,150.5 L620.0,146.0 L623.8,139.8 L627.5,135.5 L632.5,132.2 L637.5,131.8 L642.5,134.8 L647.5,138.5 L652.5,139.2 L657.0,142.2 L657.5,145.5 L653.8,147.2 L648.8,144.8 L643.8,146.5 L637.5,149.8 L636.2,152.2 L638.8,157.2 L642.5,162.2 L647.5,166.0 L652.0,168.5 L652.5,172.2 L660.0,176.0 L667.5,179.8 L675.0,183.0 L678.0,186.0 L677.5,189.8 L672.5,191.0 L666.2,192.2 L663.0,198.5 L665.0,203.5 L672.5,206.5 L680.0,207.2 L685.0,206.0 L690.0,205.2 L698.0,203.0"/>
<path d="M652.5,172.2 L650.0,176.0 L646.2,182.2 L640.0,188.5 L635.0,192.2 L632.5,198.5 L631.2,206.0 L631.2,210.0"/>
<path d="M162.5,207.0 L165.0,210.0 L172.5,213.0 L178.8,216.2 L183.8,220.0 L181.2,223.8 L182.0,228.8 L186.2,233.0 L191.2,235.0 L196.2,234.2 L202.5,230.8 L210.0,228.8 L217.5,228.2 L221.2,232.5 L230.0,236.2 L240.0,238.8 L248.8,240.5 L253.8,245.0 L260.0,251.2 L265.0,256.2 L275.0,262.5 L285.0,268.8 L290.0,275.0 L295.0,278.0 L300.0,279.5"/>
<path d="M240.0,210.0 L243.8,213.0 L250.0,218.8 L256.2,225.5 L263.8,231.2 L272.5,234.5 L275.0,238.8 L276.2,247.5 L280.0,252.5 L290.0,258.8 L297.5,266.2 L300.0,268.8 L302.0,270.8 L303.0,274.8 L300.5,277.5"/>
<path d="M216.2,241.8 L227.5,242.5 L240.0,243.8 L247.5,247.0 L248.0,251.2 L243.8,253.0 L232.5,252.0 L220.0,250.0 L213.8,247.5 Z"/>
<path d="M215.0,256.8 L222.5,256.2 L232.5,258.8 L245.0,261.2 L257.5,262.0 L264.5,263.0 L263.8,265.5 L255.0,265.5 L242.5,264.5 L230.0,263.8 L220.0,261.2 L213.8,258.8 Z"/>
<path d="M191.2,268.8 L197.5,267.5 L203.8,268.2 L203.8,271.2 L200.0,273.8 L193.8,274.2 L190.0,272.0 Z"/>
<path d="M230.0,275.5 L236.2,275.5 L242.5,277.5 L250.0,277.0 L260.0,276.2 L267.5,277.5 L270.0,281.2 L262.5,282.5 L252.5,282.5 L247.5,284.0 L240.0,282.5 L233.8,281.2 L231.2,278.0 Z"/>
<path d="M257.0,271.2 L262.5,271.2 L272.5,273.8 L280.0,277.5 L290.0,282.5"/>
<path d="M257.0,271.2 L257.5,273.8 L262.5,274.5 L270.0,276.2 L280.0,280.0 L290.0,284.5"/>
<path d="M290.0,282.4 L302.0,283.6 L310.0,287.0 L316.0,289.0"/>
<path d="M290.0,284.4 L300.0,287.6 L310.0,290.6 L318.0,293.0 L326.0,299.0 L334.0,305.0 L342.0,310.0 L350.0,316.0 L356.0,321.0 L362.0,324.4"/>
<path d="M300.0,278.0 L303.0,282.0 L307.0,281.0 L312.0,284.0 L316.0,289.0 L324.0,295.0 L332.0,300.0 L338.0,303.0 L343.0,306.0 L350.0,305.6 L354.0,307.0 L358.0,310.0"/>
<path d="M279.0,292.0 L282.0,291.0 L290.0,293.0 L300.0,296.0 L307.0,298.4 L308.0,301.0 L302.0,299.6 L292.0,297.0 L282.0,295.0 L279.0,293.6 Z"/>
<path d="M358.0,310.0 L357.6,316.0 L360.0,320.0 L364.0,323.0 L368.0,320.0 L374.0,319.0 L379.0,319.0 L379.0,323.0 L374.0,324.0 L370.0,327.0 L366.0,326.0 L364.0,323.0"/>
<path d="M372.0,316.0 L374.0,319.0 L375.0,324.0 L372.0,327.0"/>
<path d="M370.0,327.0 L374.0,328.0 L379.0,333.0 L386.0,336.0 L390.0,340.0 L396.0,346.0 L401.0,350.0 L404.0,356.0 L408.0,363.0 L414.0,366.0 L420.0,367.0 L423.0,370.0 L428.0,372.0"/>
<path d="M358.8,318.8 L357.5,311.2 L361.2,306.2 L365.5,301.2 L363.8,295.0 L360.0,290.0 L358.0,283.8 L358.8,276.2 L361.2,271.2 L365.5,268.8 L370.0,267.5 L371.2,261.2 L372.5,256.2 L376.2,251.2 L381.2,247.5 L386.2,245.0 L390.0,246.2 L392.5,250.0 L394.5,253.8 L398.8,255.0 L402.5,252.5 L403.0,247.5 L400.0,242.5 L396.2,238.8 L392.5,237.0 L392.0,233.8 L395.0,230.5 L400.0,228.8 L410.0,229.5 L418.8,227.5 L427.5,225.5 L430.5,222.5 L430.5,216.2 L428.8,210.0 L427.5,207.5"/>
<path d="M410.0,229.5 L415.0,236.2 L422.5,241.2 L430.0,247.5 L436.2,253.8 L440.0,258.8"/>
<path d="M433.0,250.0 L435.0,254.0 L439.0,259.0 L446.0,262.0 L454.0,266.0 L462.0,270.0 L469.0,275.0 L476.0,278.0 L483.0,280.0 L488.0,283.0 L491.0,287.0 L488.0,290.0 L484.0,291.0 L479.0,293.6 L472.0,295.0 L467.0,296.4 L464.4,299.0 L466.0,301.6 L470.0,303.0 L471.6,307.0 L471.0,311.0"/>
<path d="M471.0,311.0 L466.0,313.0 L460.0,315.6 L453.0,318.0 L449.0,315.0 L448.0,309.0 L446.4,304.0 L443.0,304.0 L439.0,309.0 L434.0,316.0 L428.0,325.0 L422.0,334.0 L415.6,343.0 L422.0,348.0 L422.4,354.0 L421.0,362.0 L420.0,370.0 L421.6,373.0"/>
<path d="M471.0,311.0 L474.0,314.0 L477.0,318.0 L480.0,322.0 L482.0,327.0 L484.0,330.0 L490.0,331.6 L496.0,334.0 L501.0,338.0 L504.0,343.0 L505.0,349.0 L507.0,354.0 L509.0,360.0 L509.6,365.0 L508.0,368.0 L505.0,370.0 L503.0,373.0"/>
<path d="M491.0,287.0 L496.0,287.2 L501.0,285.0" stroke-width="1.2"/>
<path d="M509.6,365.6 L515.0,362.0 L518.0,355.0 L521.0,351.0 L526.0,349.0 L532.0,346.0 L538.0,343.6 L543.0,341.6 L547.0,344.0 L550.0,348.0 L552.0,350.0 L555.0,347.0 L558.0,344.0 L560.0,342.4"/>
<path d="M400.0,348.0 L403.0,354.0 L404.0,360.0 L408.0,364.0 L415.0,367.0 L420.0,370.0 L428.0,372.0 L433.0,373.0"/>
<path d="M501.0,285.0 L500.0,279.0 L503.0,276.0 L507.0,273.0 L510.0,270.6 L513.0,268.0 L513.6,264.0 L511.0,262.0 L508.0,260.0 L507.6,257.4 L511.0,256.6 L515.0,255.0 L519.0,253.0 L523.0,252.0 L526.0,255.0 L524.4,259.0 L528.0,261.0 L533.0,263.4 L537.0,264.6 L541.0,264.0 L545.0,266.0 L546.4,270.0 L547.0,273.0 L551.0,274.6 L552.4,278.0 L554.0,282.0 L558.0,284.0 L564.0,284.6 L565.0,289.0 L563.6,295.0 L569.0,296.6 L574.0,297.4 L578.0,300.6 L583.0,301.4 L588.0,300.6 L590.4,303.4 L588.0,308.0 L585.0,313.0 L582.0,317.0 L580.0,321.0 L578.0,324.0 L580.0,327.0 L576.0,328.6 L572.4,330.0 L573.0,333.0 L577.0,334.6" stroke-width="1.2"/>
<path d="M572.5,332.5 L576.2,335.0 L572.5,337.5 L566.2,338.0 L561.2,341.2 L557.5,345.0 L556.2,350.0 L551.2,350.0 L550.0,346.2 L546.2,342.5 L543.0,341.5 L538.0,343.5 L532.0,346.0 L526.0,349.0 L521.0,351.0 L518.0,355.0 L515.0,362.0 L509.5,365.5"/>
<path d="M631.2,208.8 L632.5,215.0 L636.2,222.5 L641.2,233.8 L650.0,238.8 L657.5,241.2 L662.5,247.5 L667.5,253.8 L672.5,258.8 L673.8,262.5 L670.0,268.8 L663.8,275.0 L656.2,282.5 L650.0,284.5 L642.5,285.0 L637.5,287.5 L635.0,291.2 L636.2,297.5 L636.2,305.0 L640.0,310.0 L643.0,316.2 L642.5,322.5 L637.5,327.5 L632.5,331.2 L628.8,329.5"/>
<path d="M572.5,332.5 L576.2,336.2 L582.5,338.0 L587.5,337.5 L592.5,332.5 L597.5,331.2 L605.0,332.5 L612.5,332.5 L620.0,331.2 L625.0,329.5 L628.8,329.5 L632.5,333.8 L636.2,340.0 L642.5,346.2 L650.0,351.2 L657.5,355.0 L661.2,355.8"/>
<path d="M117.0,358.8 L121.2,361.2 L123.8,364.0"/>
<path d="M123.8,364.0 L132.5,366.0 L143.8,367.0 L155.0,366.0 L167.5,365.2 L180.0,364.8 L186.2,363.2 L191.2,362.8 L196.2,365.2 L200.0,371.5 L200.0,376.5 L196.2,380.2 L190.0,385.2 L182.5,388.5 L179.5,391.5 L178.8,396.5 L180.5,401.5 L186.2,406.5 L195.0,410.2 L205.0,414.0 L215.0,419.0 L225.0,423.5 L235.0,427.0 L245.0,430.2 L255.0,433.5 L265.0,437.8 L273.8,442.0 L280.0,447.8 L286.2,454.0 L292.5,457.8 L300.0,460.2"/>
<path d="M228.8,518.0 L235.0,511.5 L238.8,502.8 L243.8,494.0 L250.0,487.8 L256.2,483.5 L261.2,481.5 L270.0,483.5 L278.0,484.8 L275.0,487.8 L271.2,491.0 L275.0,494.0 L282.5,497.8 L290.0,500.8 L300.0,500.2"/>
<path d="M300.0,460.2 L307.5,463.5 L317.5,467.0 L325.0,471.0 L328.8,478.5 L337.5,485.2 L347.5,492.8 L355.0,500.2 L360.0,509.0 L361.2,518.0"/>
<path d="M300.0,500.2 L310.0,500.2 L317.5,502.0 L322.5,509.0 L326.2,518.0"/>
<path d="M407.5,364.0 L415.0,366.5 L421.2,370.2 L430.0,370.2 L437.0,374.5 L437.0,381.5 L435.5,387.8 L436.2,392.8 L432.0,395.2 L428.8,401.5 L425.5,408.5 L426.2,414.0 L430.5,417.8 L430.0,425.2 L428.0,432.8 L426.2,440.2 L431.2,444.0 L432.0,450.2 L425.0,452.8 L423.0,460.2 L420.5,467.8 L417.0,472.0 L422.5,476.5 L427.5,479.5 L428.8,486.5 L429.5,494.0 L427.5,497.8 L423.8,496.5 L422.5,491.5 L418.8,488.5 L415.5,491.0 L418.8,496.5 L422.5,501.5 L426.2,506.5 L435.0,510.2 L442.5,514.0 L450.0,518.0"/>
<path d="M419.5,364.0 L420.0,371.0 L422.5,371.0 L422.0,364.0"/>
<path d="M503.0,373.0 L501.2,379.0 L502.0,386.5 L500.0,391.5 L498.8,399.0 L503.8,405.2 L504.5,409.0 L501.2,412.8 L500.5,417.8 L503.0,424.0 L507.5,431.5 L512.0,435.2 L514.5,442.8 L517.5,449.0 L525.0,450.2 L532.0,449.5 L533.8,454.0"/>
<path d="M533.8,454.0 L545.0,453.5 L553.8,453.5 L560.0,451.5 L564.5,449.0 L570.0,450.2 L575.0,452.8 L581.2,451.0 L587.5,447.8 L592.5,444.0 L596.2,437.8 L600.0,432.8 L606.2,430.2 L612.5,428.5 L618.8,427.8 L623.8,428.5 L628.8,431.0 L636.2,431.5 L645.0,431.5 L652.5,430.2 L656.2,427.8 L657.5,420.2 L658.8,415.2 L663.8,413.5 L672.5,413.5 L680.0,414.5 L686.2,414.0 L690.0,411.5 L693.8,409.0 L697.5,408.2"/>
<path d="M533.8,454.0 L535.0,460.2 L537.5,466.5 L538.8,474.0 L537.5,480.2 L532.5,486.0 L525.0,487.0 L520.0,490.2 L517.5,499.0 L513.8,509.0 L511.2,518.0"/>
<path d="M672.5,413.5 L672.0,406.5 L671.2,399.0 L672.0,391.5 L675.0,385.2 L676.2,381.5 L672.5,376.5 L668.8,370.2 L665.0,364.0 L662.5,359.0 L661.2,355.8"/>
<path d="M642.5,518.0 L645.0,511.5 L647.5,502.8 L648.0,494.0 L645.5,487.8 L650.0,484.0 L657.5,480.2 L662.5,476.5 L665.0,472.8 L668.8,472.0 L672.0,475.2 L671.2,480.2 L666.2,484.0 L663.8,486.5 L666.2,491.5 L672.5,496.5 L682.5,501.0 L692.5,504.5 L697.5,507.5"/>
<path d="M116.9,507.5 L126.2,511.2 L137.5,520.6 L145.0,527.0 L150.6,520.6 L156.2,518.0 L163.8,522.5 L169.4,531.9 L172.0,545.0 L176.9,556.2 L181.8,566.8"/>
<path d="M240.6,500.0 L235.0,509.4 L229.4,516.9 L227.5,524.4 L223.8,533.8 L220.0,543.1 L221.9,550.6 L227.5,556.2 L236.9,558.1 L244.4,560.8 L250.0,565.6 L253.0,567.5"/>
<path d="M313.8,500.0 L317.5,501.9 L323.1,509.4 L326.9,518.8 L326.1,526.2 L332.5,533.8 L341.9,539.4 L351.2,542.0 L355.0,535.6 L358.8,526.2 L360.6,516.9 L358.8,507.5 L355.0,500.0"/>
<path d="M422.5,500.0 L431.9,507.5 L445.0,515.0 L456.2,522.5 L461.9,530.0 L463.8,539.4 L464.5,550.6 L471.2,552.5 L476.9,556.2 L480.6,566.8"/>
<path d="M518.1,500.0 L514.4,509.4 L510.6,516.9 L499.4,520.6 L490.0,523.2 L487.0,528.1 L490.0,535.6 L493.0,540.5 L487.0,543.1 L485.5,546.9 L480.6,552.5 L476.9,556.2"/>
<path d="M459.2,566.8 L459.2,560.0 L454.4,556.2 L455.5,550.6 L460.0,548.8 L460.8,544.2 L456.2,541.2 L448.8,542.0 L441.2,545.0 L440.5,550.6 L445.0,554.4 L450.6,558.1 L453.2,563.8 L454.4,566.8"/>
<path d="M647.5,500.0 L644.5,509.4 L643.8,516.9 L649.4,524.4 L656.9,531.9 L662.5,539.4 L665.5,546.9 L668.1,554.4 L673.8,561.9 L677.5,566.8"/>
</g>
<g stroke="#000" stroke-width="1" shape-rendering="crispEdges">
<line x1="113.0" y1="66.5" x2="117.0" y2="66.5"/>
<line x1="113.0" y1="108.5" x2="117.0" y2="108.5"/>
<line x1="113.0" y1="150.5" x2="117.0" y2="150.5"/>
<line x1="113.0" y1="192.5" x2="117.0" y2="192.5"/>
<line x1="113.0" y1="233.5" x2="117.0" y2="233.5"/>
<line x1="113.0" y1="275.5" x2="117.0" y2="275.5"/>
<line x1="113.0" y1="317.5" x2="117.0" y2="317.5"/>
<line x1="113.0" y1="359.5" x2="117.0" y2="359.5"/>
<line x1="113.0" y1="400.5" x2="117.0" y2="400.5"/>
<line x1="113.0" y1="442.5" x2="117.0" y2="442.5"/>
<line x1="113.0" y1="484.5" x2="117.0" y2="484.5"/>
<line x1="113.0" y1="526.5" x2="117.0" y2="526.5"/>
<line x1="113.0" y1="568.5" x2="117.0" y2="568.5"/>
<line x1="117.5" y1="568.0" x2="117.5" y2="572.0"/>
<line x1="186.5" y1="568.0" x2="186.5" y2="572.0"/>
<line x1="256.5" y1="568.0" x2="256.5" y2="572.0"/>
<line x1="326.5" y1="568.0" x2="326.5" y2="572.0"/>
<line x1="395.5" y1="568.0" x2="395.5" y2="572.0"/>
<line x1="465.5" y1="568.0" x2="465.5" y2="572.0"/>
<line x1="535.5" y1="568.0" x2="535.5" y2="572.0"/>
<line x1="604.5" y1="568.0" x2="604.5" y2="572.0"/>
<line x1="674.5" y1="568.0" x2="674.5" y2="572.0"/>
</g>
<g font-family="Liberation Sans, sans-serif" fill="#000" style="opacity:0.999">
<text transform="translate(110.6,70.8) scale(0.885,1)" font-size="12.6" text-anchor="end" font-weight="bold">45.5N</text>
<text transform="translate(110.6,112.8) scale(0.885,1)" font-size="12.6" text-anchor="end" font-weight="bold">45N</text>
<text transform="translate(110.6,154.8) scale(0.885,1)" font-size="12.6" text-anchor="end" font-weight="bold">44.5N</text>
<text transform="translate(110.6,196.8) scale(0.885,1)" font-size="12.6" text-anchor="end" font-weight="bold">44N</text>
<text transform="translate(110.6,237.8) scale(0.885,1)" font-size="12.6" text-anchor="end" font-weight="bold">43.5N</text>
<text transform="translate(110.6,279.8) scale(0.885,1)" font-size="12.6" text-anchor="end" font-weight="bold">43N</text>
<text transform="translate(110.6,321.8) scale(0.885,1)" font-size="12.6" text-anchor="end" font-weight="bold">42.5N</text>
<text transform="translate(110.6,363.8) scale(0.885,1)" font-size="12.6" text-anchor="end" font-weight="bold">42N</text>
<text transform="translate(110.6,404.8) scale(0.885,1)" font-size="12.6" text-anchor="end" font-weight="bold">41.5N</text>
<text transform="translate(110.6,446.8) scale(0.885,1)" font-size="12.6" text-anchor="end" font-weight="bold">41N</text>
<text transform="translate(110.6,488.8) scale(0.885,1)" font-size="12.6" text-anchor="end" font-weight="bold">40.5N</text>
<text transform="translate(110.6,530.8) scale(0.885,1)" font-size="12.6" text-anchor="end" font-weight="bold">40N</text>
<text transform="translate(110.6,572.8) scale(0.885,1)" font-size="12.6" text-anchor="end" font-weight="bold">39.5N</text>
<text transform="translate(118.1,581.9) scale(0.79,1)" font-size="12.6" text-anchor="middle" font-weight="bold">15E</text>
<text transform="translate(187.1,581.9) scale(0.79,1)" font-size="12.6" text-anchor="middle" font-weight="bold">16E</text>
<text transform="translate(257.1,581.9) scale(0.79,1)" font-size="12.6" text-anchor="middle" font-weight="bold">17E</text>
<text transform="translate(327.1,581.9) scale(0.79,1)" font-size="12.6" text-anchor="middle" font-weight="bold">18E</text>
<text transform="translate(396.1,581.9) scale(0.79,1)" font-size="12.6" text-anchor="middle" font-weight="bold">19E</text>
<text transform="translate(466.1,581.9) scale(0.79,1)" font-size="12.6" text-anchor="middle" font-weight="bold">20E</text>
<text transform="translate(536.1,581.9) scale(0.79,1)" font-size="12.6" text-anchor="middle" font-weight="bold">21E</text>
<text transform="translate(605.1,581.9) scale(0.79,1)" font-size="12.6" text-anchor="middle" font-weight="bold">22E</text>
<text transform="translate(675.1,581.9) scale(0.79,1)" font-size="12.6" text-anchor="middle" font-weight="bold">23E</text>
<text x="702.0" y="130.7" font-size="11.7" text-anchor="start" font-weight="normal" letter-spacing="0.5" stroke="#000" stroke-width="0.4">100</text>
<text x="702.0" y="162.4" font-size="11.7" text-anchor="start" font-weight="normal" letter-spacing="0.5" stroke="#000" stroke-width="0.4">75</text>
<text x="702.0" y="194.2" font-size="11.7" text-anchor="start" font-weight="normal" letter-spacing="0.5" stroke="#000" stroke-width="0.4">50</text>
<text x="702.0" y="225.9" font-size="11.7" text-anchor="start" font-weight="normal" letter-spacing="0.5" stroke="#000" stroke-width="0.4">40</text>
<text x="702.0" y="257.6" font-size="11.7" text-anchor="start" font-weight="normal" letter-spacing="0.5" stroke="#000" stroke-width="0.4">30</text>
<text x="702.0" y="289.4" font-size="11.7" text-anchor="start" font-weight="normal" letter-spacing="0.5" stroke="#000" stroke-width="0.4">25</text>
<text x="702.0" y="321.1" font-size="11.7" text-anchor="start" font-weight="normal" letter-spacing="0.5" stroke="#000" stroke-width="0.4">20</text>
<text x="702.0" y="352.8" font-size="11.7" text-anchor="start" font-weight="normal" letter-spacing="0.5" stroke="#000" stroke-width="0.4">15</text>
<text x="702.0" y="384.6" font-size="11.7" text-anchor="start" font-weight="normal" letter-spacing="0.5" stroke="#000" stroke-width="0.4">10</text>
<text x="702.0" y="416.3" font-size="11.7" text-anchor="start" font-weight="normal" letter-spacing="0.5" stroke="#000" stroke-width="0.4">5</text>
<text x="702.0" y="448.0" font-size="11.7" text-anchor="start" font-weight="normal" letter-spacing="0.5" stroke="#000" stroke-width="0.4">2</text>
<text x="702.0" y="479.8" font-size="11.7" text-anchor="start" font-weight="normal" letter-spacing="0.5" stroke="#000" stroke-width="0.4">1</text>
<text x="702.0" y="511.5" font-size="11.7" text-anchor="start" font-weight="normal" letter-spacing="0.5" stroke="#000" stroke-width="0.4">0.2</text>
<text x="28.6" y="20.8" font-size="12.8" text-anchor="start" font-weight="normal" textLength="205.6" lengthAdjust="spacingAndGlyphs" stroke="#000" stroke-width="0.15">wrf-nmmE_v3.9.1-e3km</text>
<text x="65.4" y="41.8" font-size="12.8" text-anchor="start" font-weight="normal" textLength="30" lengthAdjust="spacingAndGlyphs" stroke="#000" stroke-width="0.15">3-h</text>
<text x="109" y="41.8" font-size="12.8" text-anchor="start" font-weight="normal" textLength="73.5" lengthAdjust="spacingAndGlyphs" stroke="#000" stroke-width="0.15">Acc.Prec.</text>
<text x="424.3" y="20.8" font-size="12.8" text-anchor="start" font-weight="normal" textLength="106.3" lengthAdjust="spacingAndGlyphs" stroke="#000" stroke-width="0.15">initialisation:</text>
<text x="538" y="20.8" font-size="12.8" text-anchor="start" font-weight="normal" textLength="98" lengthAdjust="spacingAndGlyphs" stroke="#000" stroke-width="0.15">2021.03.23.</text>
<text x="655" y="20.8" font-size="12.8" text-anchor="start" font-weight="normal" textLength="45.6" lengthAdjust="spacingAndGlyphs" stroke="#000" stroke-width="0.15">00:00</text>
<text x="709" y="20.8" font-size="12.8" text-anchor="start" font-weight="normal" textLength="31" lengthAdjust="spacingAndGlyphs" stroke="#000" stroke-width="0.15">UTC</text>
<text x="435.4" y="41.8" font-size="12.8" text-anchor="start" font-weight="normal" textLength="102" lengthAdjust="spacingAndGlyphs" stroke="#000" stroke-width="0.15">valid(+36h):</text>
<text x="544.6" y="41.8" font-size="12.8" text-anchor="start" font-weight="normal" textLength="104" lengthAdjust="spacingAndGlyphs" stroke="#000" stroke-width="0.15">2021.MAR.24</text>
<text x="660.6" y="41.8" font-size="12.8" text-anchor="start" font-weight="normal" textLength="40" lengthAdjust="spacingAndGlyphs" stroke="#000" stroke-width="0.15">12:00</text>
<text x="714.6" y="41.8" font-size="12.8" text-anchor="start" font-weight="normal" textLength="30" lengthAdjust="spacingAndGlyphs" stroke="#000" stroke-width="0.15">UTC</text>
<text x="4.2" y="615.6" font-size="10" text-anchor="start" font-weight="bold" textLength="30" lengthAdjust="spacingAndGlyphs">GrADS:</text>
<text x="40.8" y="615.6" font-size="10" text-anchor="start" font-weight="bold" textLength="49.2" lengthAdjust="spacingAndGlyphs">COLA/IGES</text>
<text x="683.8" y="615.6" font-size="10" text-anchor="start" font-weight="bold" textLength="94.2" lengthAdjust="spacingAndGlyphs">2021-03-23-09:40</text>
</g>
</svg>
</body></html>
